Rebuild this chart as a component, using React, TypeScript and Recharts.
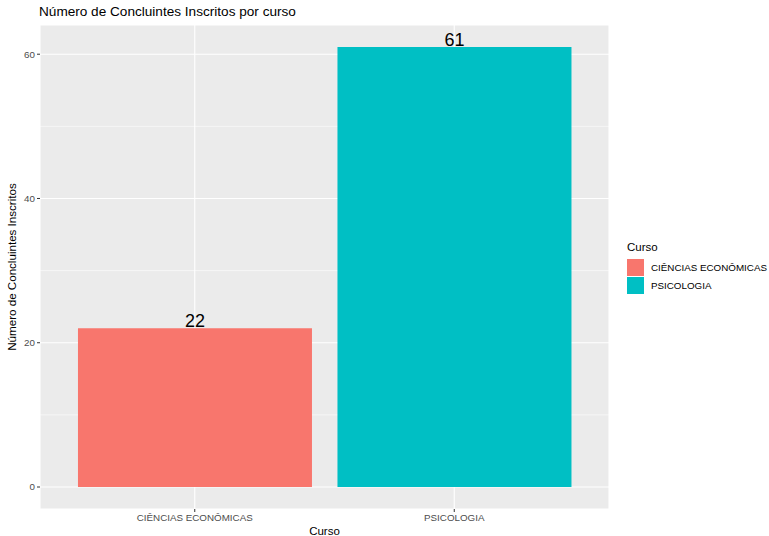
import { BarChart, Bar, XAxis, YAxis, CartesianGrid, Cell, LabelList } from 'recharts';

const cursos = ['CIÊNCIAS ECONÔMICAS', 'PSICOLOGIA'];
const concluintes = [22, 61];
const cores = ['#F8766D', '#00BFC4'];
const yTicks = [0, 20, 40, 60];
const yMinor = [10, 30, 50];

const data = cursos.map((curso, i) => ({ curso, valor: concluintes[i], cor: cores[i] }));

const font = '"Liberation Sans", Arial, sans-serif';

export default function App() {
  return (
    <div style={{ position: 'fixed', left: 0, top: 0, width: 769, height: 536, background: '#fff', fontFamily: font }}>
      <div style={{ position: 'absolute', left: 39, top: 4, fontSize: 13.6, color: '#000', whiteSpace: 'nowrap' }}>
        Número de Concluintes Inscritos por curso
      </div>

      <BarChart
        width={769}
        height={536}
        data={data}
        margin={{ top: 25, right: 160, bottom: 0, left: 0 }}
        barCategoryGap="5%"
      >
        <CartesianGrid fill="#EBEBEB" stroke="#FFFFFF" strokeWidth={1.1} />
        <CartesianGrid vertical={false} horizontalValues={yMinor} stroke="#FFFFFF" strokeWidth={0.55} />
        <XAxis
          dataKey="curso"
          height={27}
          padding={{ left: 25, right: 25 }}
          axisLine={false}
          tickLine={{ stroke: '#333333' }}
          tickSize={3}
          tick={{ fontSize: 9.8, fill: '#4D4D4D', fontFamily: font }}
          label={(props: any) => {
            const vb = props.viewBox;
            return (
              <text x={vb.x + vb.width / 2} y={vb.y + 26} textAnchor="middle" fontSize={11.5} fill="#000" fontFamily={font}>
                Curso
              </text>
            );
          }}
        />
        <YAxis
          width={40}
          domain={[-3.05, 64.05]}
          ticks={yTicks}
          axisLine={false}
          tickLine={{ stroke: '#333333' }}
          tickSize={3}
          tick={{ fontSize: 9.8, fill: '#4D4D4D', fontFamily: font }}
          label={(props: any) => {
            const vb = props.viewBox;
            const cy = vb.y + vb.height / 2;
            return (
              <text x={16} y={cy} transform={`rotate(-90, 16, ${cy})`} textAnchor="middle" fontSize={11.6} fill="#000" fontFamily={font}>
                Número de Concluintes Inscritos
              </text>
            );
          }}
        />
        <Bar dataKey="valor" isAnimationActive={false}>
          {data.map((d) => (
            <Cell key={d.curso} fill={d.cor} />
          ))}
          <LabelList dataKey="valor" position="top" offset={1} fontSize={18} fill="#000" fontFamily={font} />
        </Bar>
      </BarChart>

      <div style={{ position: 'absolute', left: 627, top: 241, fontSize: 11.5, color: '#000' }}>
        <div style={{ marginBottom: 6 }}>Curso</div>
        {data.map((d) => (
          <div key={d.curso} style={{ display: 'flex', alignItems: 'center', height: 17, marginBottom: 0.5 }}>
            <div style={{ width: 17, height: 17, background: d.cor, marginRight: 7 }} />
            <span style={{ fontSize: 9.8 }}>{d.curso}</span>
          </div>
        ))}
      </div>
    </div>
  );
}
